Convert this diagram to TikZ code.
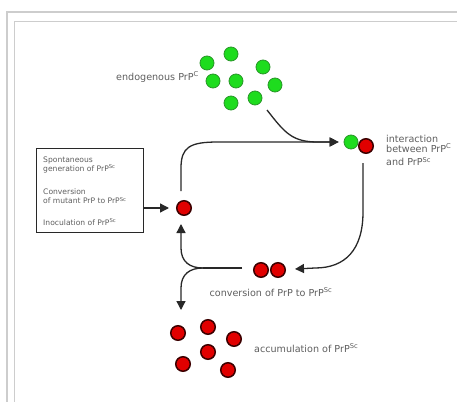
\documentclass[tikz,border=0pt]{standalone}
\usepackage{fontspec}
\setmainfont{DejaVu Sans}
\usetikzlibrary{arrows.meta}
\definecolor{txtgray}{RGB}{95,95,95}
\definecolor{framegray}{RGB}{205,205,205}
\definecolor{gfill}{RGB}{30,220,30}
\definecolor{gedge}{RGB}{40,150,40}
\definecolor{rfill}{RGB}{225,0,0}
\definecolor{redge}{RGB}{60,0,0}
\definecolor{linec}{RGB}{40,40,40}
\tikzset{
  gdot/.style={circle, fill=gfill, draw=gedge, line width=0.8pt, minimum size=14pt, inner sep=0pt},
  rdot/.style={circle, fill=rfill, draw=redge, line width=1.5pt, minimum size=14.5pt, inner sep=0pt},
  lbl/.style={text=txtgray, font=\fontsize{9.6}{10}\selectfont, inner sep=0pt},
  smalllbl/.style={text=txtgray, font=\fontsize{7.6}{8}\selectfont, inner sep=0pt, anchor=west},
  flow/.style={draw=linec, line width=1.3pt},
  arr/.style={flow, -{Triangle[length=9pt,width=9pt]}},
  boxst/.style={draw=linec, line width=0.9pt, minimum width=107pt, minimum height=84pt, inner sep=0pt},
  frame/.style={draw=framegray}
}
\begin{document}
\begin{tikzpicture}[x=1pt,y=-1pt]
\useasboundingbox (0,0) rectangle (457,401);
\fill[white] (0,0) rectangle (457,401);
\clip (0,0) rectangle (457,401);
% frame
\draw[frame, line width=2pt] (7,12) rectangle (480,430);
\draw[frame, line width=1.2pt] (14.5,21.5) rectangle (470,420);

% endogenous PrP^C
\node[gdot] (g1) at (207,63) {};
\node[gdot] (g2) at (231,54) {};
\node[gdot] (g3) at (263,67) {};
\node[gdot] (g4) at (213,81) {};
\node[gdot] (g5) at (236,81) {};
\node[gdot] (g6) at (275,85) {};
\node[gdot] (g7) at (255,98) {};
\node[gdot] (g8) at (231,103) {};
\node[lbl, anchor=east] (endo) at (199,77) {endogenous PrP\textsuperscript{C}};

% interaction
\node[gdot] (gI) at (351,142) {};
\node[rdot] (rI) at (366,146) {};
\node[lbl, anchor=north west, align=left] (inter) at (386,135) {interaction\\between PrP\textsuperscript{C}\\[3.5pt]and PrP\textsuperscript{Sc}};

% box
\node[boxst] (box) at (89.5,190) {};
\node[smalllbl] (b1) at (43,160) {Spontaneous};
\node[smalllbl] (b2) at (43,168.5) {generation of PrP\textsuperscript{Sc}};
\node[smalllbl] (b3) at (43,192) {Conversion};
\node[smalllbl] (b4) at (43,200.5) {of mutant PrP to PrP\textsuperscript{Sc}};
\node[smalllbl] (b5) at (43,222) {Inoculation of PrP\textsuperscript{Sc}};

% central red dot
\node[rdot] (rB) at (184,208) {};

% conversion
\node[rdot] (c1) at (261,270) {};
\node[rdot] (c2) at (278,270) {};
\node[lbl] (conv) at (271,292) {conversion of PrP to PrP\textsuperscript{Sc}};

% accumulation
\node[rdot] (a1) at (178,333) {};
\node[rdot] (a2) at (208,327) {};
\node[rdot] (a3) at (234,339) {};
\node[rdot] (a4) at (208,352) {};
\node[rdot] (a5) at (183,364) {};
\node[rdot] (a6) at (228,370) {};
\node[lbl, anchor=west] (accu) at (254,348) {accumulation of PrP\textsuperscript{Sc}};

% connectors
\coordinate (tipI) at ([xshift=-5pt]gI.west);
\coordinate (tipC) at (295,269);
\coordinate (tipB) at ([xshift=-7pt]rB.west);
\coordinate (tipUp) at (181,224);
\coordinate (tipDown) at (181,310);
\coordinate (junc) at (203,268);

\draw[arr] (box.east |- rB) -- (tipB);
\draw[arr] ([xshift=-3pt,yshift=9pt]rB.north) -- (181,168) .. controls (181,147) and (190,142) .. (218,142) -- (tipI);
\draw[arr] ([xshift=12pt,yshift=-12pt]g7.center) .. controls (285,133) and (292,142) .. (318,142) -- (tipI);
\draw[arr] ([xshift=-3pt,yshift=-9pt]rI.south) -- (363,212) .. controls (363,250) and (345,268) .. (315,268) -- (tipC);
\draw[flow] ([xshift=-11pt]c1.west |- junc) -- (junc);
\draw[arr] (junc) .. controls (190,268) and (181,262) .. (181,248) -- (tipUp);
\draw[arr] (junc) .. controls (190,268) and (181,274) .. (181,288) -- (tipDown);
\end{tikzpicture}
\end{document}
